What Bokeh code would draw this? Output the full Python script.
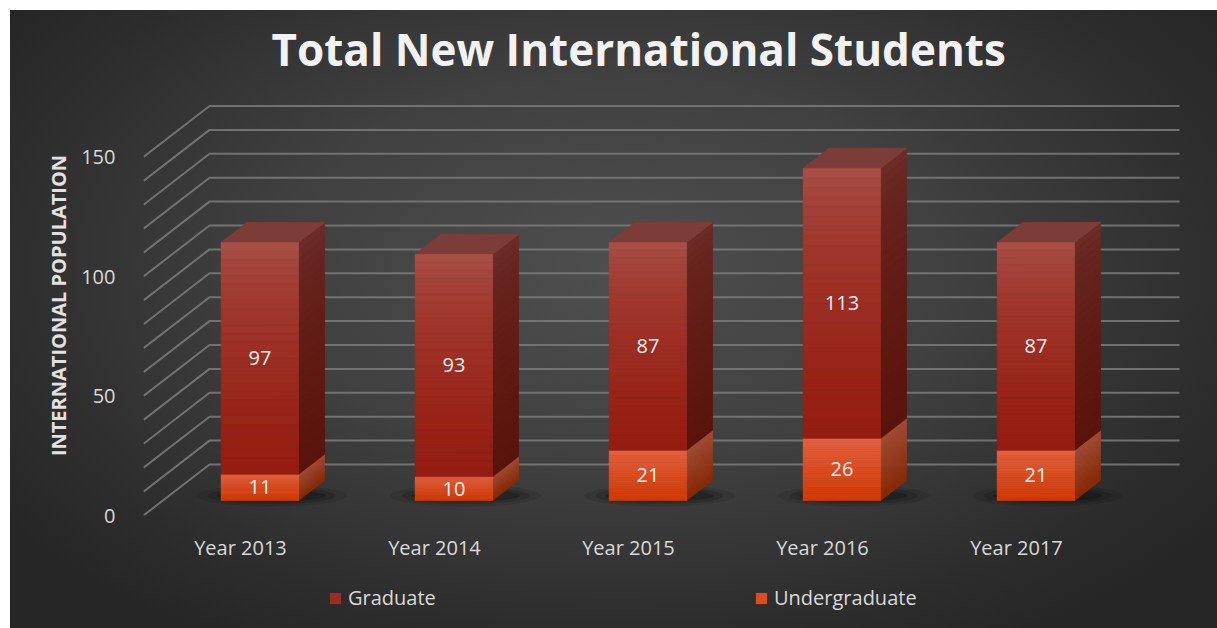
import numpy as np
from bokeh.plotting import figure
from bokeh.layouts import column
from bokeh.models import FixedTicker, Legend, LegendItem, Title, ColumnDataSource
from bokeh.core.properties import value
from bokeh.embed import file_html
from bokeh.resources import INLINE

# ---------------- data ----------------
years = ["Year 2013", "Year 2014", "Year 2015", "Year 2016", "Year 2017"]
undergraduate = [11, 10, 21, 26, 21]
graduate = [97, 93, 87, 113, 87]
y_ticks = [0, 50, 100, 150]
grid_values = [0, 10, 20, 30, 40, 50, 60, 70, 80, 90, 100, 110, 120, 130, 140, 150]

# ---------------- layout / style ----------------
W, H = 1217, 628
LEG_H = 53
PX_CAT = 194.0          # pixels per category
PX_VAL = 2.39           # pixels per value unit
LEFT, RIGHT, TOP, BOTTOM = 143, 17, 95, 60
FW, FH = W - LEFT - RIGHT, H - LEG_H - TOP - BOTTOM
DX = 66.0 / PX_CAT      # depth offset (x, category units)
DY = 51.0 / PX_VAL      # depth offset (y, value units)
F0, F1 = 15.0 / 51.0, 35.0 / 51.0   # bar front / back depth fractions
BAR_W = 0.40
N_SLICES = 28
FONT = "Open Sans"
TXT = "#d9d9d9"

def hex2rgb(h):
    h = h.lstrip("#")
    return np.array([int(h[i:i + 2], 16) for i in (0, 2, 4)], dtype=float)

def mix(c1, c2, s):
    a, b = hex2rgb(c1), hex2rgb(c2)
    c = a + (b - a) * s
    return "#%02x%02x%02x" % tuple(int(round(v)) for v in c)

GRAD_FRONT = ("#aa544c", "#951b0f")
GRAD_SIDE = ("#6e2e29", "#5a130a")
GRAD_TOP = "#7c3c37"
UG_FRONT = ("#e4613f", "#d23a06")
UG_SIDE = ("#a24c35", "#892905")

p = figure(frame_width=FW, frame_height=FH, output_backend="svg", toolbar_location=None,
           x_range=(0, FW / PX_CAT), y_range=(0, FH / PX_VAL),
           min_border_left=LEFT, min_border_right=RIGHT,
           min_border_top=TOP, min_border_bottom=BOTTOM,
           background_fill_color=None, border_fill_color=None,
           outline_line_color=None)
p.grid.visible = False

# ---------------- title ----------------
p.title = Title(text="Total New International Students", text_font=FONT,
                text_font_size="44px", text_font_style="bold",
                text_color="#f2f2f2", align="left", offset=128, standoff=33)

# ---------------- axes ----------------
p.yaxis.ticker = FixedTicker(ticks=y_ticks)
p.yaxis.axis_line_color = None
p.yaxis.major_tick_line_color = None
p.yaxis.minor_tick_line_color = None
p.yaxis.major_label_standoff = 22
p.yaxis.major_label_text_font = FONT
p.yaxis.major_label_text_font_size = "20px"
p.yaxis.major_label_text_color = TXT
p.yaxis.axis_label = "INTERNATIONAL POPULATION"
p.yaxis.axis_label_text_font = FONT
p.yaxis.axis_label_text_font_size = "20px"
p.yaxis.axis_label_text_font_style = "bold"
p.yaxis.axis_label_text_color = "#e2e2e2"
p.yaxis.axis_label_standoff = 6

cat_centers = [i + 0.5 for i in range(len(years))]
p.xaxis.ticker = FixedTicker(ticks=cat_centers)
p.xaxis.major_label_overrides = {c: y for c, y in zip(cat_centers, years)}
p.xaxis.axis_line_color = None
p.xaxis.major_tick_line_color = None
p.xaxis.minor_tick_line_color = None
p.xaxis.major_label_standoff = 12
p.xaxis.major_label_text_font = FONT
p.xaxis.major_label_text_font_size = "20px"
p.xaxis.major_label_text_color = TXT

# ---------------- gridlines (side wall + back wall) ----------------
n = len(years)
p.multi_line(xs=[[0, DX, n + DX] for _ in grid_values],
             ys=[[v, v + DY, v + DY] for v in grid_values],
             line_color="#787878", line_width=2, line_alpha=0.9)

# ---------------- shadows ----------------
sh_x = [c + F0 * DX + 0.06 for c in cat_centers]
for w, h, a in [(0.78, 9.0, 0.10), (0.66, 7.0, 0.14), (0.56, 5.0, 0.2)]:
    p.ellipse(x=sh_x, y=[(F0 + F1) / 2 * DY - 2.2] * n, width=w, height=h,
              fill_color="black", fill_alpha=a, line_color=None)

# ---------------- 3D bars ----------------
d = F1 - F0
fq = {key: dict(left=[], right=[], bottom=[], top=[], color=[]) for key in ("ug", "gr")}
sp = dict(xs=[], ys=[], color=[])

def add_segment(key, i, y0, y1, front, side, gamma):
    xl = cat_centers[i] - BAR_W / 2 + F0 * DX
    xr = cat_centers[i] + BAR_W / 2 + F0 * DX
    edges = np.linspace(y1, y0, N_SLICES + 1)
    q = fq[key]
    for k in range(N_SLICES):
        s = ((k + 0.5) / N_SLICES) ** gamma
        top_v, bot_v = float(edges[k]), float(edges[k + 1])
        sp["xs"].append([xr, xr + d * DX, xr + d * DX, xr])
        sp["ys"].append([bot_v + F0 * DY, bot_v + F1 * DY, top_v + F1 * DY, top_v + F0 * DY])
        sp["color"].append(mix(side[0], side[1], s))
        q["left"].append(xl); q["right"].append(xr)
        q["bottom"].append(bot_v + F0 * DY); q["top"].append(top_v + F0 * DY)
        q["color"].append(mix(front[0], front[1], s))
    return xl, xr

tops = dict(xs=[], ys=[])
for i in range(n):
    ug, gr = undergraduate[i], graduate[i]
    add_segment("ug", i, 0, ug, UG_FRONT, UG_SIDE, 1.0)
    xl, xr = add_segment("gr", i, ug, ug + gr, GRAD_FRONT, GRAD_SIDE, 0.55)
    t = ug + gr
    tops["xs"].append([xl, xr, xr + d * DX, xl + d * DX])
    tops["ys"].append([t + F0 * DY, t + F0 * DY, t + F1 * DY, t + F1 * DY])

src_ug = ColumnDataSource(fq["ug"])
src_gr = ColumnDataSource(fq["gr"])
p.patches(xs="xs", ys="ys", fill_color="color", line_color="color", line_width=0.6,
          source=ColumnDataSource(sp))
p.patches(xs="xs", ys="ys", fill_color=GRAD_TOP, line_color=GRAD_TOP,
          source=ColumnDataSource(tops))
p.quad(left="left", right="right", bottom="bottom", top="top",
       fill_color="color", line_color="color", line_width=0.6, source=src_ug)
p.quad(left="left", right="right", bottom="bottom", top="top",
       fill_color="color", line_color="color", line_width=0.6, source=src_gr)

# ---------------- value labels ----------------
lab_x = [c + F0 * DX for c in cat_centers]
p.text(x=lab_x, y=[u / 2 + F0 * DY for u in undergraduate],
       text=[str(u) for u in undergraduate], text_font=value(FONT),
       text_font_size="20px", text_color="#eeeeee", text_align="center",
       text_baseline="middle")
p.text(x=lab_x, y=[u + g / 2 + F0 * DY for u, g in zip(undergraduate, graduate)],
       text=[str(g) for g in graduate], text_font=value(FONT),
       text_font_size="20px", text_color="#eeeeee", text_align="center",
       text_baseline="middle")

# ---------------- legend strip (second figure) ----------------
pl = figure(frame_width=W, frame_height=LEG_H, output_backend="svg", toolbar_location=None,
            x_range=(0, 1), y_range=(0, 1), x_axis_type=None, y_axis_type=None,
            min_border=0, background_fill_color=None, border_fill_color=None,
            outline_line_color=None)
pl.grid.visible = False
lg_g = pl.quad(left="left", right="right", bottom="bottom", top="top",
               fill_color="color", line_color=None, source=src_gr, visible=False)
lg_u = pl.quad(left="left", right="right", bottom="bottom", top="top",
               fill_color="color", line_color=None, source=src_ug, visible=False)
legend = Legend(items=[LegendItem(label="Graduate", renderers=[lg_g], index=N_SLICES // 2),
                       LegendItem(label="Undergraduate", renderers=[lg_u], index=N_SLICES // 2)],
                orientation="horizontal", location=(328, 17),
                glyph_width=14, glyph_height=14, label_standoff=6, spacing=6,
                label_width=400, inactive_fill_alpha=0,
                label_text_font=FONT, label_text_font_size="20px",
                label_text_color=TXT, background_fill_alpha=0,
                border_line_alpha=0, padding=0, margin=0)
pl.add_layout(legend)

layout = column(p, pl, spacing=0)
layout.styles = {"background": "radial-gradient(ellipse 62% 70% at 50% 42%, #4e4e4e 0%, #404040 45%, #2c2c2c 85%, #262626 100%) 10px 10px / 1207px 618px no-repeat, #ffffff"}

open("out.html", "w").write(file_html(layout, INLINE))
